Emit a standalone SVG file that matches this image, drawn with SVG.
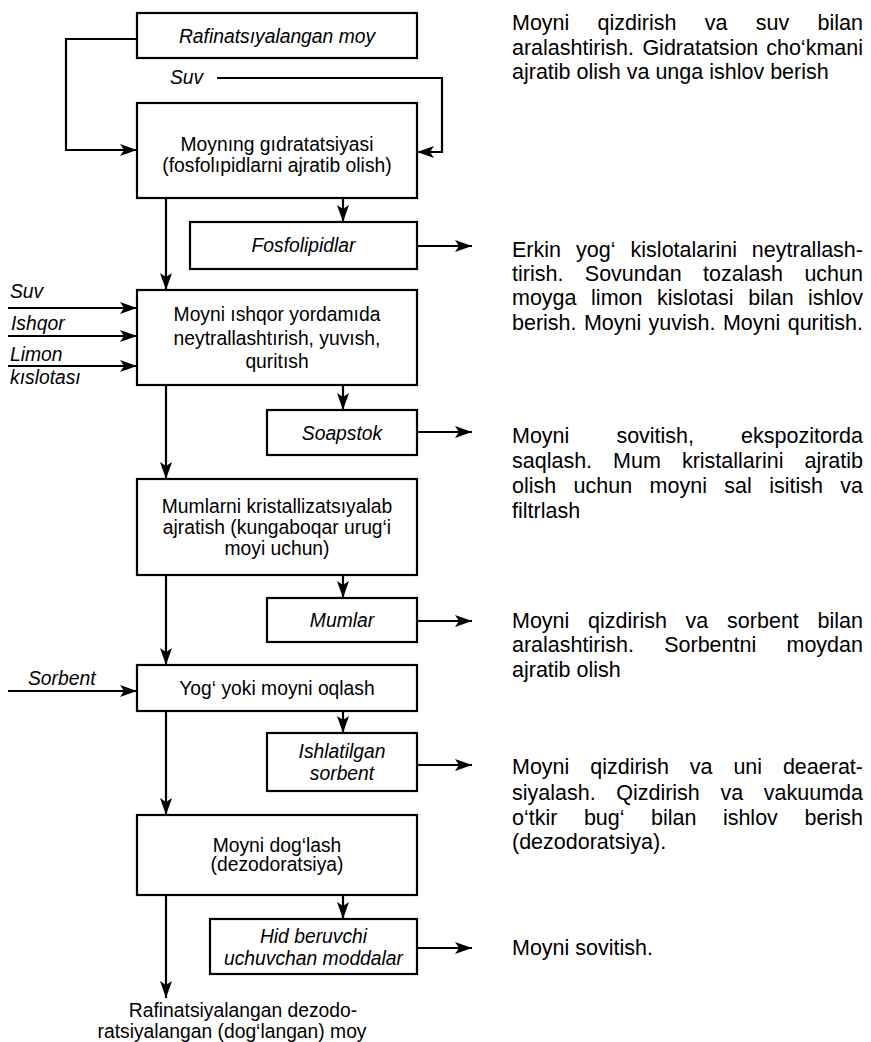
<svg xmlns="http://www.w3.org/2000/svg" width="871" height="1042" viewBox="0 0 871 1042">
<style>
.box{fill:#fff;stroke:#000;stroke-width:2.2}
.c{fill:none;stroke:#000;stroke-width:2.2}
.t{font-family:"Liberation Sans",Arial,sans-serif;font-size:19.3px;fill:#000}
.m{text-anchor:middle}
.i{font-style:italic}
.r{font-family:"Liberation Sans",Arial,sans-serif;font-size:21.5px;fill:#000}
.e{text-anchor:end}
</style>
<defs>
<marker id="ah" markerUnits="userSpaceOnUse" markerWidth="18" markerHeight="13" refX="17" refY="6" orient="auto">
<path d="M0,0 L17,6 L0,12 L4,6 z" fill="#000"/>
</marker>
</defs>
<rect width="871" height="1042" fill="#fff"/>
<g id="connectors" class="c" marker-end="url(#ah)">
<path d="M137,39 H66 V150 H137"/>
<path d="M217,78 H442 V152 H417"/>
<path d="M343,198 V222"/>
<path d="M417,246 H472"/>
<path d="M166,198 V290"/>
<path d="M8,308 H137"/>
<path d="M8,336 H137"/>
<path d="M8,366 H137"/>
<path d="M343,385 V410"/>
<path d="M417,432 H472"/>
<path d="M166,385 V479"/>
<path d="M343,575 V598"/>
<path d="M417,621 H472"/>
<path d="M166,575 V665"/>
<path d="M8,691 H137"/>
<path d="M343,711 V733"/>
<path d="M417,765 H472"/>
<path d="M166,711 V815"/>
<path d="M343,895 V919"/>
<path d="M417,948 H472"/>
<path d="M166,895 V998"/>
</g>
<g id="labels" class="t i">
<text x="170" y="84">Suv</text>
<text x="10" y="298">Suv</text>
<text x="11" y="330">Ishqor</text>
<text x="10" y="361">Limon</text>
<text x="10" y="384">kıslotası</text>
<text x="28" y="685">Sorbent</text>
</g>
<g id="n1"><rect class="box" x="137" y="13" width="280" height="45"/><text class="t m i" x="277" y="43">Rafinatsıyalangan moy</text></g>
<g id="n2"><rect class="box" x="137" y="103" width="280" height="95"/><text class="t m" x="277" y="151">Moynıng gıdratatsiyasi</text><text class="t m" x="277" y="172">(fosfolıpidlarni ajratib olish)</text></g>
<g id="n3"><rect class="box" x="190" y="222" width="227" height="47"/><text class="t m i" x="303.5" y="252">Fosfolipidlar</text></g>
<g id="n4"><rect class="box" x="137" y="290" width="280" height="95"/><text class="t m" x="277" y="321">Moyni ıshqor yordamıda</text><text class="t m" x="277" y="345">neytrallashtırish, yuvısh,</text><text class="t m" x="277" y="368">quritısh</text></g>
<g id="n5"><rect class="box" x="267" y="410" width="150" height="45"/><text class="t m i" x="342" y="440">Soapstok</text></g>
<g id="n6"><rect class="box" x="137" y="479" width="280" height="96"/><text class="t m" x="277" y="513">Mumlarni kristallizatsıyalab</text><text class="t m" x="277" y="534">ajratish (kungaboqar urug‘i</text><text class="t m" x="277" y="555">moyi uchun)</text></g>
<g id="n7"><rect class="box" x="267" y="598" width="150" height="44"/><text class="t m i" x="342" y="627">Mumlar</text></g>
<g id="n8"><rect class="box" x="137" y="665" width="280" height="46"/><text class="t m" x="277" y="695">Yog‘ yoki moyni oqlash</text></g>
<g id="n9"><rect class="box" x="267" y="733" width="150" height="58"/><text class="t m i" x="342" y="758">Ishlatilgan</text><text class="t m i" x="342" y="780">sorbent</text></g>
<g id="n10"><rect class="box" x="137" y="815" width="280" height="80"/><text class="t m" x="277" y="852">Moyni dog‘lash</text><text class="t m" x="277" y="871">(dezodoratsiya)</text></g>
<g id="n11"><rect class="box" x="210" y="919" width="207" height="55"/><text class="t m i" x="313.5" y="943">Hid beruvchi</text><text class="t m i" x="313.5" y="965">uchuvchan moddalar</text></g>
<g id="out"><text class="t m" x="243" y="1017">Rafinatsiyalangan dezodo-</text><text class="t m" x="232" y="1038">ratsiyalangan (dog‘langan) moy</text></g>
<g id="notes" class="r">
<text x="512" y="30">Moyni</text><text x="597.6" y="30">qizdirish</text><text x="704.7" y="30">va</text><text x="755.7" y="30">suv</text><text class="e" x="863" y="30">bilan</text>
<text x="512" y="54.5">aralashtirish.</text><text x="642.4" y="54.5">Gidratatsion</text><text class="e" x="863" y="54.5">cho‘kmani</text>
<text x="512" y="79">ajratib olish va unga ishlov berish</text>

<text x="512" y="256.5">Erkin</text><text x="576.1" y="256.5">yog‘</text><text x="630.6" y="256.5">kislotalarini</text><text class="e" x="863" y="256.5">neytrallash-</text>
<text x="512" y="281">tirish.</text><text x="584.8" y="281">Sovundan</text><text x="703" y="281">tozalash</text><text class="e" x="863" y="281">uchun</text>
<text x="512" y="305">moyga</text><text x="591.1" y="305">limon</text><text x="657.1" y="305">kislotasi</text><text x="748.2" y="305">bilan</text><text class="e" x="863" y="305">ishlov</text>
<text x="512" y="329.5">berish.</text><text x="583.9" y="329.5">Moyni</text><text x="648.6" y="329.5">yuvish.</text><text x="722.9" y="329.5">Moyni</text><text class="e" x="863" y="329.5">quritish.</text>

<text x="512" y="443">Moyni</text><text x="616.4" y="443">sovitish,</text><text class="e" x="863" y="443">ekspozitorda</text>
<text x="512" y="468">saqlash.</text><text x="613.1" y="468">Mum</text><text x="681.9" y="468">kristallarini</text><text class="e" x="863" y="468">ajratib</text>
<text x="512" y="493">olish</text><text x="573.6" y="493">uchun</text><text x="649.6" y="493">moyni</text><text x="724.3" y="493">sal</text><text x="769.2" y="493">isitish</text><text class="e" x="863" y="493">va</text>
<text x="512" y="518">filtrlash</text>

<text x="512" y="628">Moyni</text><text x="588.1" y="628">qizdirish</text><text x="685.6" y="628">va</text><text x="727.1" y="628">sorbent</text><text class="e" x="863" y="628">bilan</text>
<text x="512" y="652">aralashtirish.</text><text x="664.2" y="652">Sorbentni</text><text class="e" x="863" y="652">moydan</text>
<text x="512" y="677">ajratib olish</text>

<text x="512" y="774">Moyni</text><text x="590.2" y="774">qizdirish</text><text x="689.8" y="774">va</text><text x="733.4" y="774">uni</text><text class="e" x="863" y="774">deaerat-</text>
<text x="512" y="800">siyalash.</text><text x="616.2" y="800">Qizdirish</text><text x="720.4" y="800">va</text><text class="e" x="863" y="800">vakuumda</text>
<text x="512" y="825">o‘tkir</text><text x="583.9" y="825">bug‘</text><text x="651" y="825">bilan</text><text x="722.9" y="825">ishlov</text><text class="e" x="863" y="825">berish</text>
<text x="512" y="849">(dezodoratsiya).</text>

<text x="512" y="955">Moyni sovitish.</text>
</g>
</svg>
